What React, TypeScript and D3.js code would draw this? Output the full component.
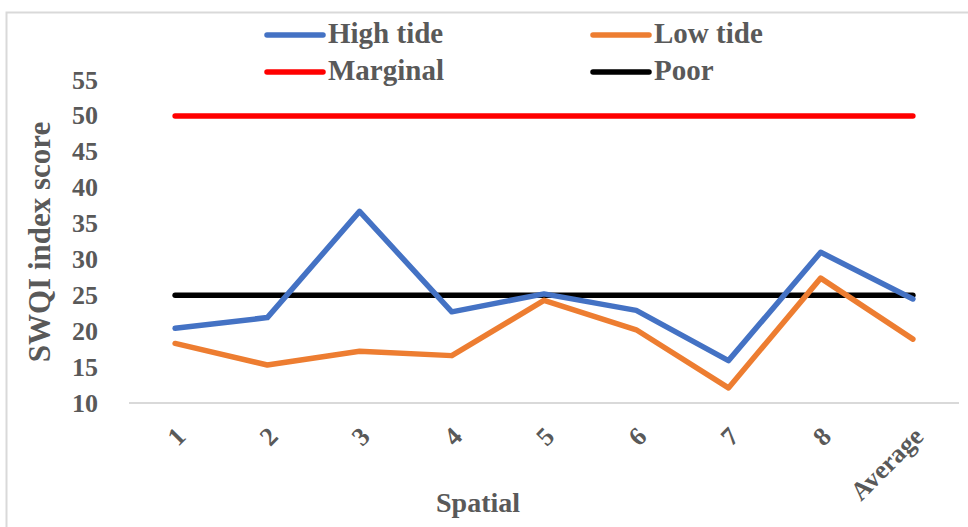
import React from "react";
import * as d3 from "d3";

const categories = ["1", "2", "3", "4", "5", "6", "7", "8", "Average"];
const highTide = [20.4, 21.9, 36.7, 22.7, 25.2, 22.9, 15.9, 31.0, 24.5];
const lowTide = [18.3, 15.3, 17.2, 16.6, 24.3, 20.2, 12.1, 27.4, 18.9];
const marginal = [50, 50, 50, 50, 50, 50, 50, 50, 50];
const poor = [25, 25, 25, 25, 25, 25, 25, 25, 25];
const yTicks = [10, 15, 20, 25, 30, 35, 40, 45, 50, 55];

const W = 968;
const H = 527;
const FONT = "'Liberation Serif', 'Times New Roman', serif";
const GREY = "#595959";

export default function App() {
  const x = d3.scaleBand<string>().domain(categories).range([129, 959]);
  const y = d3.scaleLinear().domain([10, 55]).range([403, 80]);
  const cx = (c: string) => (x(c) as number) + x.bandwidth() / 2;
  const line = d3
    .line<number>()
    .x((_, i) => cx(categories[i]))
    .y((d) => y(d));

  const series = [
    { name: "Marginal", data: marginal, color: "#FF0000" },
    { name: "Poor", data: poor, color: "#000000" },
    { name: "High tide", data: highTide, color: "#4472C4" },
    { name: "Low tide", data: lowTide, color: "#ED7D31" },
  ];
  const legend = [
    { name: "High tide", color: "#4472C4", x: 267, y: 35 },
    { name: "Low tide", color: "#ED7D31", x: 593, y: 35 },
    { name: "Marginal", color: "#FF0000", x: 267, y: 72 },
    { name: "Poor", color: "#000000", x: 593, y: 72 },
  ];

  return (
    <svg
      width={W}
      height={H}
      style={{ position: "absolute", left: 0, top: 0, background: "#fff" }}
      fontFamily={FONT}
    >
      <rect x={6.5} y={12.5} width={975} height={530} fill="#fff" stroke="#d9d9d9" strokeWidth={2} />
      {/* legend */}
      {legend.map((l) => (
        <g key={l.name}>
          <line x1={l.x} x2={l.x + 56} y1={l.y} y2={l.y} stroke={l.color} strokeWidth={5.5} strokeLinecap="round" />
          <text x={l.x + 61} y={l.y + 8} fontSize={29} fontWeight="bold" fill={GREY}>
            {l.name}
          </text>
        </g>
      ))}
      {/* y ticks */}
      {yTicks.map((t) => (
        <text key={t} x={98} y={y(t) + 8.5} textAnchor="end" fontSize={26} fontWeight="bold" fill={GREY}>
          {t}
        </text>
      ))}
      <text
        transform={`translate(50,${242}) rotate(-90)`}
        textAnchor="middle"
        fontSize={31}
        fontWeight="bold"
        fill={GREY}
      >
        SWQI  index score
      </text>
      {/* x axis */}
      <line x1={x.range()[0]} x2={x.range()[1]} y1={403} y2={403} stroke="#d9d9d9" strokeWidth={2} />
      {categories.map((c) => (
        <text
          key={c}
          transform={`translate(${cx(c) + 12},${438}) rotate(-45)`}
          textAnchor="end"
          fontSize={26}
          fontWeight="bold"
          fill={GREY}
        >
          {c}
        </text>
      ))}
      <text x={478} y={512} textAnchor="middle" fontSize={28} fontWeight="bold" fill={GREY}>
        Spatial
      </text>
      {/* series */}
      {series.map((s) => (
        <path
          key={s.name}
          d={line(s.data) || ""}
          fill="none"
          stroke={s.color}
          strokeWidth={5.5}
          strokeLinecap="round"
          strokeLinejoin="round"
        />
      ))}
    </svg>
  );
}
